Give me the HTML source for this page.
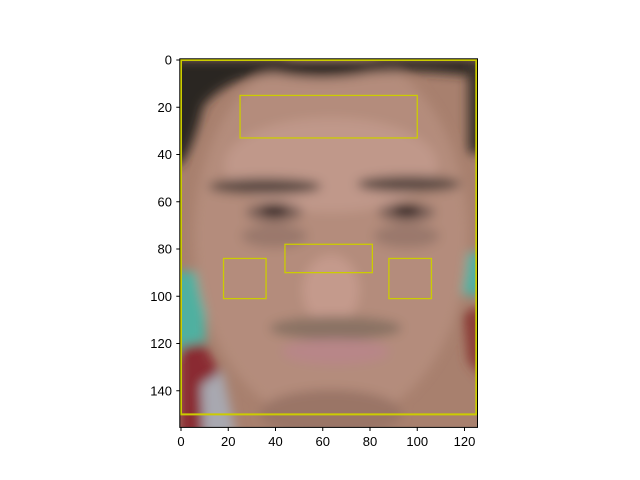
<!DOCTYPE html>
<html><head><meta charset="utf-8"><style>
html,body{margin:0;padding:0;background:#fff;width:640px;height:480px;overflow:hidden;}
svg{display:block;font-family:"Liberation Sans",sans-serif;}
</style></head><body>
<svg id="chart" width="640" height="480" viewBox="0 0 640 480">
<defs>
<filter id="blur" x="-10%" y="-10%" width="120%" height="120%"><feGaussianBlur stdDeviation="2.2"/></filter>
<clipPath id="clip"><rect x="0" y="0" width="126" height="156"/></clipPath>
</defs>
<g transform="translate(179.8,58.8) scale(2.3625)" clip-path="url(#clip)">
<rect x="0" y="0" width="126" height="156" fill="#a8806e"/>
<g filter="url(#blur)">
<rect x="-5" y="90" width="16" height="35" fill="#4fb0a0"/>
<rect x="118" y="82" width="12" height="18" fill="#4fb0a0"/>
<ellipse cx="64" cy="75" rx="58" ry="80" fill="#b48c7c"/>
<ellipse cx="64" cy="45" rx="45" ry="20" fill="#c0988a"/>
<path d="M-5,0 L130,0 L130,8 Q100,4 80,6 Q60,10 40,6 Q20,8 10,20 Q5,40 0,45 L-5,45Z" fill="#2a2522"/>
<rect x="122" y="0" width="8" height="40" fill="#3a302a"/>
<ellipse cx="36" cy="54" rx="24" ry="3.5" fill="#5a4a42"/>
<ellipse cx="97" cy="53" rx="22" ry="3.5" fill="#5a4a42"/>
<ellipse cx="40" cy="65" rx="12" ry="4" fill="#7a6058"/>
<ellipse cx="96" cy="65" rx="12" ry="4" fill="#7a6058"/>
<ellipse cx="40" cy="64" rx="6" ry="2.5" fill="#2e2220"/>
<ellipse cx="96" cy="64" rx="6" ry="2.5" fill="#2e2220"/>
<ellipse cx="40" cy="75" rx="14" ry="5" fill="#9a786c"/>
<ellipse cx="96" cy="75" rx="14" ry="5" fill="#9a786c"/>
<ellipse cx="64" cy="98" rx="12" ry="15" fill="#c49a8c"/>
<ellipse cx="66" cy="114" rx="28" ry="5" fill="#8a7264"/>
<ellipse cx="66" cy="124" rx="23" ry="5.5" fill="#b88688"/>
<path d="M0,122 L10,120 L18,135 L22,160 L0,160Z" fill="#8a2a30"/>
<path d="M9,138 L18,132 L24,160 L10,160Z" fill="#a8a8b0"/>
<path d="M120,108 L128,104 L128,135 L122,128Z" fill="#8a3a36"/>
<ellipse cx="64" cy="150" rx="30" ry="10" fill="#9a7466"/>
</g>
</g>
<g id="rects" fill="none" stroke="#cccc00"></g>
<rect x="179.8" y="58.8" width="297.7" height="368.6" fill="none" stroke="#000" stroke-width="1"/>
<g id="xticks" font-size="13" fill="#000"></g>
<g id="yticks" font-size="13" fill="#000"></g>
</svg>
<script>
const xTickLabels=[0,20,40,60,80,100,120];
const yTickLabels=[0,20,40,60,80,100,120,140];
const boxX=[0,25,18,44,88];
const boxY=[0,15,84,78,84];
const boxW=[125,75,18,37,18];
const boxH=[150,18,17,12,17];
const boxNames=['face-box','forehead-box','left-cheek-box','nose-box','right-cheek-box'];
const S=2.3625, X0=181, Y0=60;
const sx=v=>X0+v*S, sy=v=>Y0+v*S;
const NS='http://www.w3.org/2000/svg';
const rg=document.getElementById('rects');
for(let i=0;i<boxX.length;i++){
  const r=document.createElementNS(NS,'rect');
  r.setAttribute('x',sx(boxX[i]));r.setAttribute('y',sy(boxY[i]));
  r.setAttribute('width',boxW[i]*S);r.setAttribute('height',boxH[i]*S);
  r.setAttribute('stroke-width',i===0?2:1.3);
  
  
  rg.appendChild(r);
}
const xg=document.getElementById('xticks');
xTickLabels.forEach(v=>{
  const l=document.createElementNS(NS,'line');
  l.setAttribute('x1',sx(v));l.setAttribute('x2',sx(v));l.setAttribute('y1',427.4);l.setAttribute('y2',431);l.setAttribute('stroke','#000');
  
  
  xg.appendChild(l);
  const t=document.createElementNS(NS,'text');
  t.setAttribute('x',sx(v));t.setAttribute('y',446);t.setAttribute('text-anchor','middle');t.textContent=v;
  
  
  xg.appendChild(t);
});
const yg=document.getElementById('yticks');
yTickLabels.forEach(v=>{
  const l=document.createElementNS(NS,'line');
  l.setAttribute('x1',176.3);l.setAttribute('x2',179.8);l.setAttribute('y1',sy(v));l.setAttribute('y2',sy(v));l.setAttribute('stroke','#000');
  
  
  yg.appendChild(l);
  const t=document.createElementNS(NS,'text');
  t.setAttribute('x',172);t.setAttribute('y',sy(v)+4.5);t.setAttribute('text-anchor','end');t.textContent=v;
  
  
  yg.appendChild(t);
});
</script>
</body></html>
